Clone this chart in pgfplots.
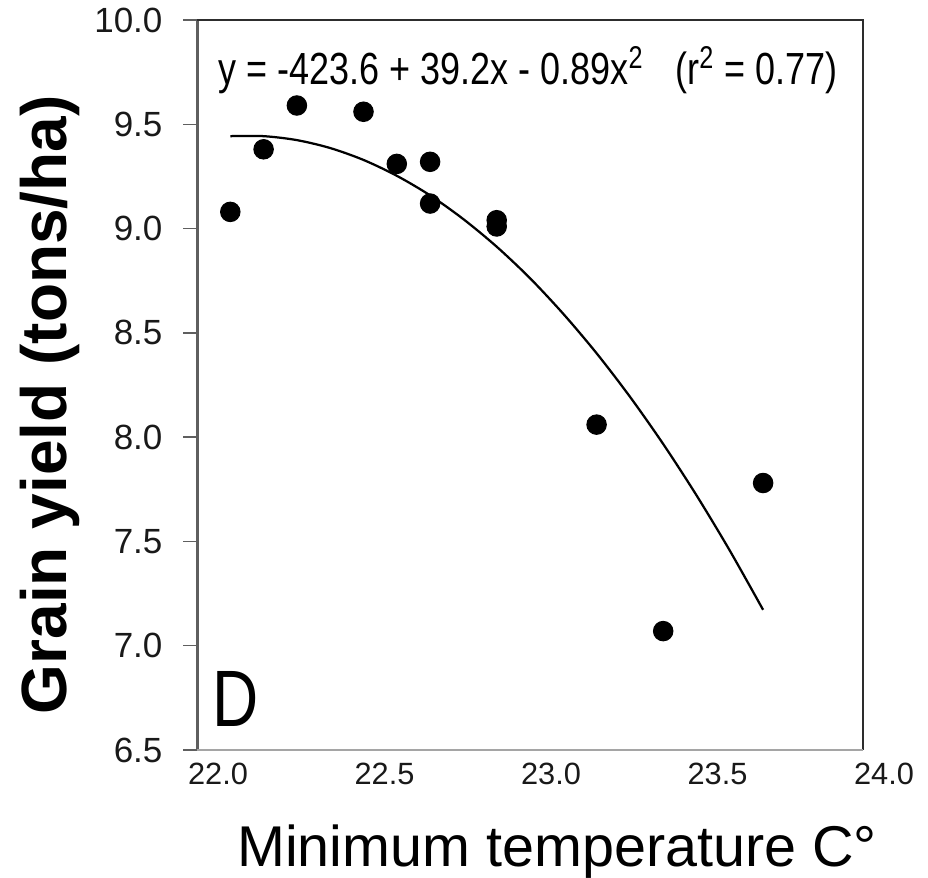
\documentclass[border=0pt]{standalone}
\usepackage{pgfplots}
\pgfplotsset{compat=1.18}
\usepackage{fontspec}
\setmainfont{Liberation Sans}
\newfontfamily\narrowfont[FakeStretch=0.8]{Liberation Sans}
\definecolor{leftax}{RGB}{95,95,95}
\definecolor{frameax}{RGB}{45,45,45}
\definecolor{botax}{RGB}{165,165,165}

\begin{document}
\begin{tikzpicture}
\begin{axis}[
  name=ax,
  scale only axis,
  width=266.4pt,
  height=292pt,
  xmin=22, xmax=24,
  ymin=6.5, ymax=10,
  xtick={22,22.5,23,23.5,24},
  ytick={6.5,7,7.5,8,8.5,9,9.5,10},
  axis line style={draw=none},
  clip=false,
  tick align=outside,
  ytick pos=left,
  xtick pos=bottom,
  major tick length=5.5pt,
  ytick style={leftax, line width=0.6pt},
  xtick style={draw=none},
  /pgf/number format/assume math mode=true,
  /pgf/number format/.cd, fixed, fixed zerofill, precision=1,
  /pgfplots/.cd,
  yticklabel style={font=\fontsize{14}{16}\selectfont, text=black!90, xshift=-4.8pt},
  xticklabel style={font=\fontsize{12.3}{14}\selectfont, text=black!90, xshift=8.4pt, yshift=4pt},
  xlabel={Minimum temperature C°},
  xlabel style={font=\fontsize{23}{26}\selectfont, at={(axis description cs:0.5405,-0.1397)}, anchor=center},
  ylabel={Grain yield (tons/ha)},
  ylabel style={font=\bfseries\fontsize{25.6}{28}\selectfont, at={(axis description cs:-0.2207,0.473)}, anchor=center, rotate=0},
]
% observed points
\addplot[only marks, mark=*, mark size=3.9pt, black] coordinates {
  (22.1,9.08) (22.2,9.38) (22.3,9.59) (22.5,9.56) (22.6,9.31) (22.7,9.32)
  (22.7,9.12) (22.9,9.04) (22.9,9.01) (23.2,8.06) (23.4,7.07) (23.7,7.78)
};
% fitted quadratic
\addplot[black, line width=0.9pt, smooth] coordinates {
  (22.1,9.443) (22.2,9.443) (22.3,9.424) (22.4,9.386) (22.5,9.329)
  (22.6,9.253) (22.7,9.159) (22.8,9.045) (22.9,8.913) (23.0,8.762)
  (23.1,8.591) (23.2,8.402) (23.3,8.194) (23.4,7.967) (23.5,7.721)
  (23.6,7.456) (23.7,7.172)
};
\draw[leftax, line width=1.2pt] (rel axis cs:0,0) -- (rel axis cs:0,1);
\draw[frameax, line width=0.9pt] (rel axis cs:0,1) -- (rel axis cs:1,1) -- (rel axis cs:1,0);
\draw[botax, line width=0.5pt] (rel axis cs:0,0) -- (rel axis cs:1,0);
\node[anchor=west, inner sep=0pt] at (axis description cs:0.0315,0.931)
  {\narrowfont\fontsize{18}{20}\selectfont y = -423.6 + 39.2x - 0.89x\textsuperscript{2}\hspace{0.7em}(r\textsuperscript{2} = 0.77)};
\node[anchor=south west, inner sep=0pt] at (axis description cs:0.022,0.0315)
  {\narrowfont\fontsize{32}{36}\selectfont D};
\end{axis}
\pgfresetboundingbox
\path ([shift={(-78.8pt,-51.2pt)}]ax.south west) rectangle ([shift={(26pt,8pt)}]ax.north east);
\end{tikzpicture}
\end{document}
